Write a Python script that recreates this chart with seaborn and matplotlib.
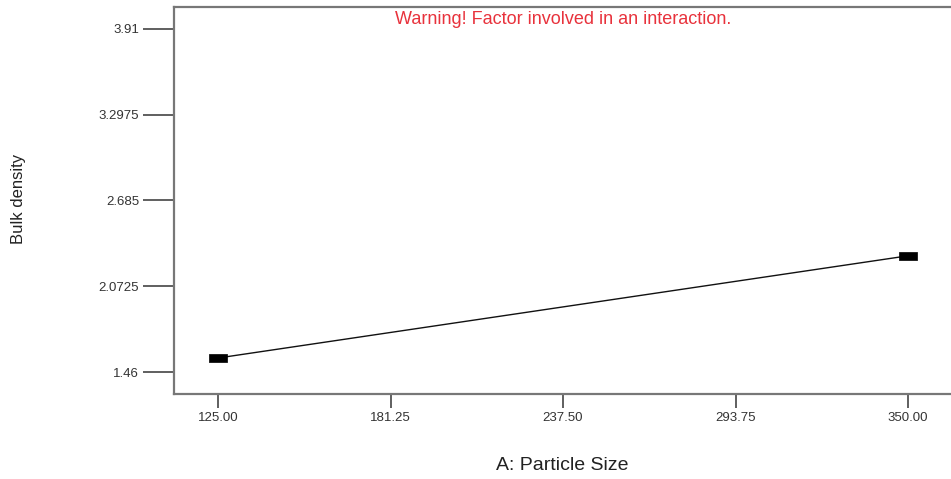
import matplotlib
matplotlib.use("Agg")
import matplotlib.pyplot as plt
import seaborn as sns
import pandas as pd

# One-factor effect: Particle Size vs Bulk density
particle_size = [125.00, 350.00]
bulk_density = [1.56, 2.29]
x_ticks = [125.00, 181.25, 237.50, 293.75, 350.00]
x_tick_labels = ["125.00", "181.25", "237.50", "293.75", "350.00"]
y_ticks = [1.46, 2.0725, 2.685, 3.2975, 3.91]
y_tick_labels = ["1.46", "2.0725", "2.685", "3.2975", "3.91"]

sns.set_theme(style="white")
plt.rcParams["font.family"] = ["Liberation Sans", "DejaVu Sans"]

W, H = 951, 479
fig = plt.figure(figsize=(W / 100, H / 100), dpi=100)
left_px, right_px, top_px, bottom_px = 174, 958, 7, 394
ax = fig.add_axes([left_px / W, (H - bottom_px) / H,
                   (right_px - left_px) / W, (bottom_px - top_px) / H])

df = pd.DataFrame({"A: Particle Size": particle_size, "Bulk density": bulk_density})
rect = [(-1, -0.45), (1, -0.45), (1, 0.45), (-1, 0.45), (-1, -0.45)]
sns.lineplot(data=df, x="A: Particle Size", y="Bulk density", ax=ax,
             color="#111111", linewidth=1.0, marker=rect, markersize=12.5,
             markerfacecolor="black", markeredgecolor="black", markeredgewidth=0.5)

ax.set_xlim(110.65, 366.3)
ax.set_ylim(1.303, 4.067)
ax.set_xticks(x_ticks)
ax.set_xticklabels(x_tick_labels)
ax.set_yticks(y_ticks)
ax.set_yticklabels(y_tick_labels)
ax.tick_params(axis="x", direction="out", length=10, width=1.2, color="#444444",
               labelsize=9.5, labelcolor="#333333", pad=3, bottom=True)
ax.tick_params(axis="y", direction="out", length=22, width=1.2, color="#444444",
               labelsize=9.5, labelcolor="#333333", pad=3, left=True)

for side in ("left", "bottom", "top"):
    ax.spines[side].set_color("#777777")
    ax.spines[side].set_linewidth(1.6)
ax.spines["right"].set_visible(False)

ax.set_xlabel("")
ax.set_ylabel("")
fig.text(562 / W, 1 - 466 / H, "A: Particle Size", ha="center", va="center",
         fontsize=14, color="#222222")
fig.text(19 / W, 1 - 199 / H, "Bulk density", ha="center", va="center",
         rotation=90, fontsize=12, color="#222222")
fig.text(563 / W, 1 - 20 / H, "Warning! Factor involved in an interaction.",
         ha="center", va="center", fontsize=13, color="#e8323c")

fig.savefig("out.png", dpi=100)
